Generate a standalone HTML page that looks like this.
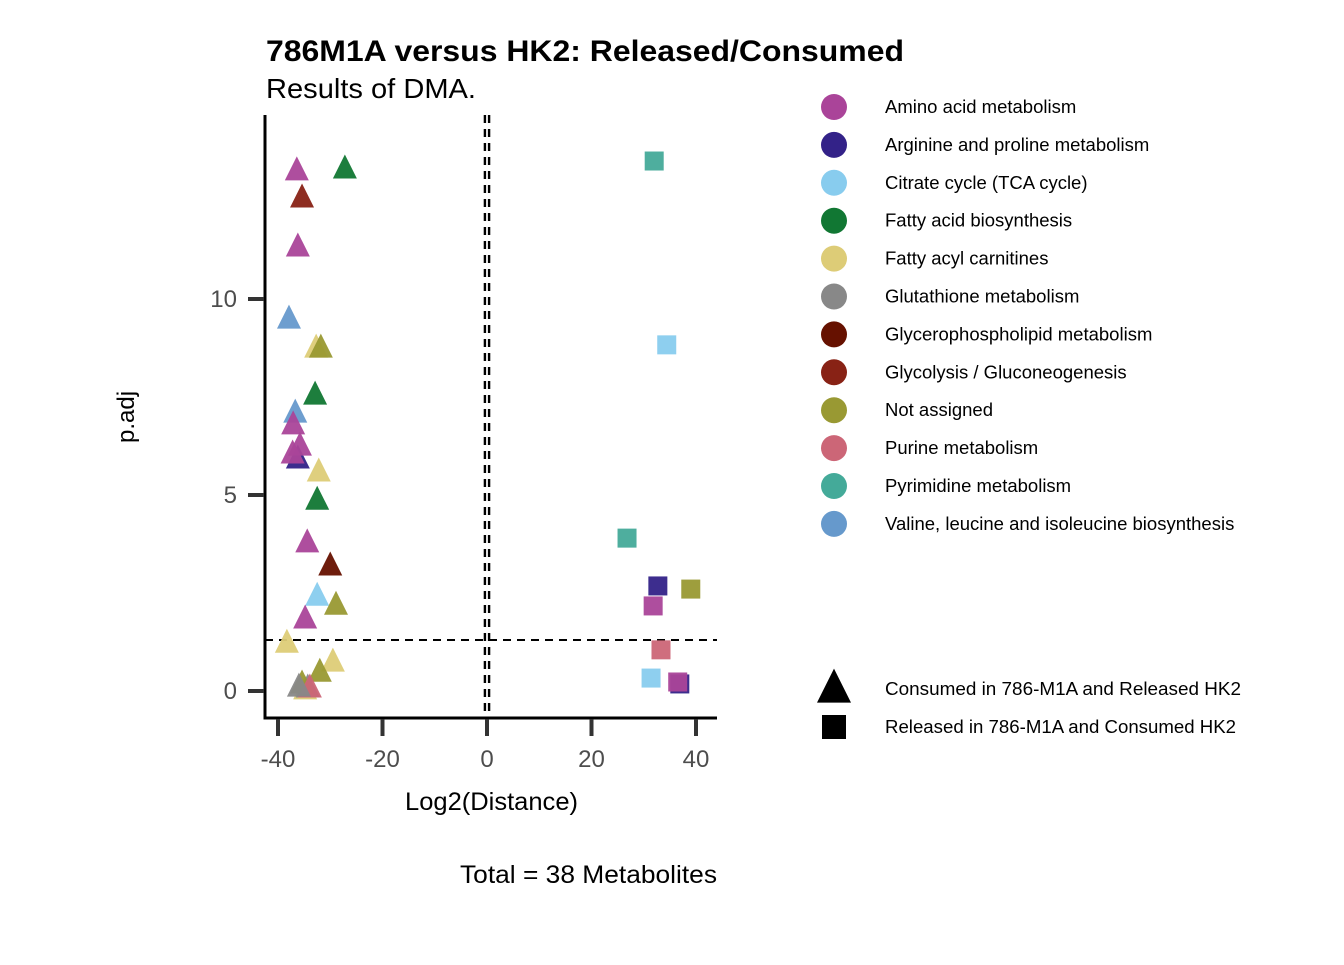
<!DOCTYPE html>
<html><head><meta charset="utf-8"><style>
body{margin:0;background:#fff;font-family:"Liberation Sans",Arial,sans-serif}
</style></head><body>
<svg width="1344" height="960" xmlns="http://www.w3.org/2000/svg" style="font-family:'Liberation Sans',Arial,sans-serif">
<text x="266" y="61" font-size="30" font-weight="bold" textLength="638" lengthAdjust="spacingAndGlyphs">786M1A versus HK2: Released/Consumed</text>
<text x="266" y="98" font-size="28" textLength="210" lengthAdjust="spacingAndGlyphs">Results of DMA.</text>
<g id="plot"></g>
<text x="405" y="810" font-size="25" textLength="173" lengthAdjust="spacingAndGlyphs">Log2(Distance)</text>
<text transform="translate(134,417) rotate(-90)" font-size="24" text-anchor="middle">p.adj</text>
<text x="460" y="883" font-size="25" textLength="257" lengthAdjust="spacingAndGlyphs">Total = 38 Metabolites</text>
<g id="legend"></g>
</svg>
<script>
const pathways=["Amino acid metabolism","Arginine and proline metabolism","Citrate cycle (TCA cycle)","Fatty acid biosynthesis","Fatty acyl carnitines","Glutathione metabolism","Glycerophospholipid metabolism","Glycolysis / Gluconeogenesis","Not assigned","Purine metabolism","Pyrimidine metabolism","Valine, leucine and isoleucine biosynthesis"];
const colors=["#AA4499","#332288","#88CCEE","#117733","#DDCC77","#888888","#661100","#882215","#999933","#CC6677","#44AA99","#6699CC"];
const xTicks=[-40,-20,0,20,40];
const yTicks=[0,5,10];
const triX=[-36.4,-27.2,-35.4,-36.2,-37.9,-32.7,-31.8,-32.9,-36.2,-36.7,-37.1,-37.2,-35.8,-32.2,-32.5,-34.4,-30.0,-32.5,-28.9,-34.8,-38.3,-29.5,-32.0,-34.8,-34.3,-35.4,-33.9,-36.0];
const triY=[13.27,13.32,12.58,11.33,9.49,8.75,8.75,7.55,5.92,7.09,6.79,6.05,6.25,5.59,4.87,3.78,3.19,2.42,2.19,1.84,1.22,0.74,0.48,0.03,0.08,0.18,0.08,0.10];
const triC=[0,3,7,0,11,4,8,3,1,11,0,0,0,4,3,0,6,2,8,0,4,4,8,4,5,8,9,5];
const sqX=[32.0,34.4,26.8,32.7,39.0,31.8,33.3,31.4,36.9,36.5];
const sqY=[13.52,8.83,3.90,2.68,2.60,2.17,1.05,0.33,0.18,0.23];
const sqC=[10,2,10,1,8,0,9,2,1,0];
const NS="http://www.w3.org/2000/svg";
const xs=v=>487+v*5.225, ys=v=>691-v*39.2;
const plot=document.getElementById('plot'), leg=document.getElementById('legend');
function mk(p,t,a){const e=document.createElementNS(NS,t);for(const k in a)e.setAttribute(k,a[k]);p.appendChild(e);return e;}
let l=mk(plot,'line',{x1:265,x2:717,y1:ys(1.3),y2:ys(1.3),stroke:'#000','stroke-width':2,'stroke-dasharray':'8,6'});


[-0.4,0.4].forEach(d=>{let v=mk(plot,'line',{x1:xs(d),x2:xs(d),y1:115,y2:718,stroke:'#000','stroke-width':2.4,'stroke-dasharray':'8,6'});

});
let ax=mk(plot,'path',{d:'M265,115V718H717',fill:'none',stroke:'#000','stroke-width':3});


xTicks.forEach(t=>{let x=xs(t);mk(plot,'line',{x1:x,x2:x,y1:719,y2:736,stroke:'#333','stroke-width':4});
let tx=mk(plot,'text',{x:x,y:767,'font-size':24,'text-anchor':'middle',fill:'#4d4d4d'});tx.textContent=t;

});
yTicks.forEach(t=>{let y=ys(t);mk(plot,'line',{x1:248,x2:264,y1:y,y2:y,stroke:'#333','stroke-width':4});
let tx=mk(plot,'text',{x:237,y:y+8,'font-size':24,'text-anchor':'end',fill:'#4d4d4d'});tx.textContent=t;

});
function tri(p,cx,cy,s,c){return mk(p,'polygon',{points:`${cx},${cy-s*0.6} ${cx-s/2},${cy+s*0.4} ${cx+s/2},${cy+s*0.4}`,fill:c});}
triX.forEach((v,i)=>{let e=tri(plot,xs(v),ys(triY[i]),24,colors[triC[i]]);e.setAttribute('opacity',0.95);

});
sqX.forEach((v,i)=>{let e=mk(plot,'rect',{x:xs(v)-9.5,y:ys(sqY[i])-9.5,width:19,height:19,fill:colors[sqC[i]],opacity:0.95});

});
pathways.forEach((p,i)=>{let y=107+i*37.9;
let c=mk(leg,'circle',{cx:834,cy:y,r:13,fill:colors[i]});


let t=mk(leg,'text',{x:885,y:y+6,'font-size':18.5});t.textContent=p;

});
let lt=tri(leg,834,689,34,'#000');


let ls=mk(leg,'rect',{x:822,y:715,width:24,height:24,fill:'#000'});


[["Consumed in 786-M1A  and Released HK2",695,356],["Released in 786-M1A and Consumed HK2",733,351]].forEach(a=>{
let t=mk(leg,'text',{x:885,y:a[1],'font-size':18,'xml:space':'preserve',textLength:a[2],lengthAdjust:'spacingAndGlyphs'});t.textContent=a[0];

});
</script>
</body></html>
